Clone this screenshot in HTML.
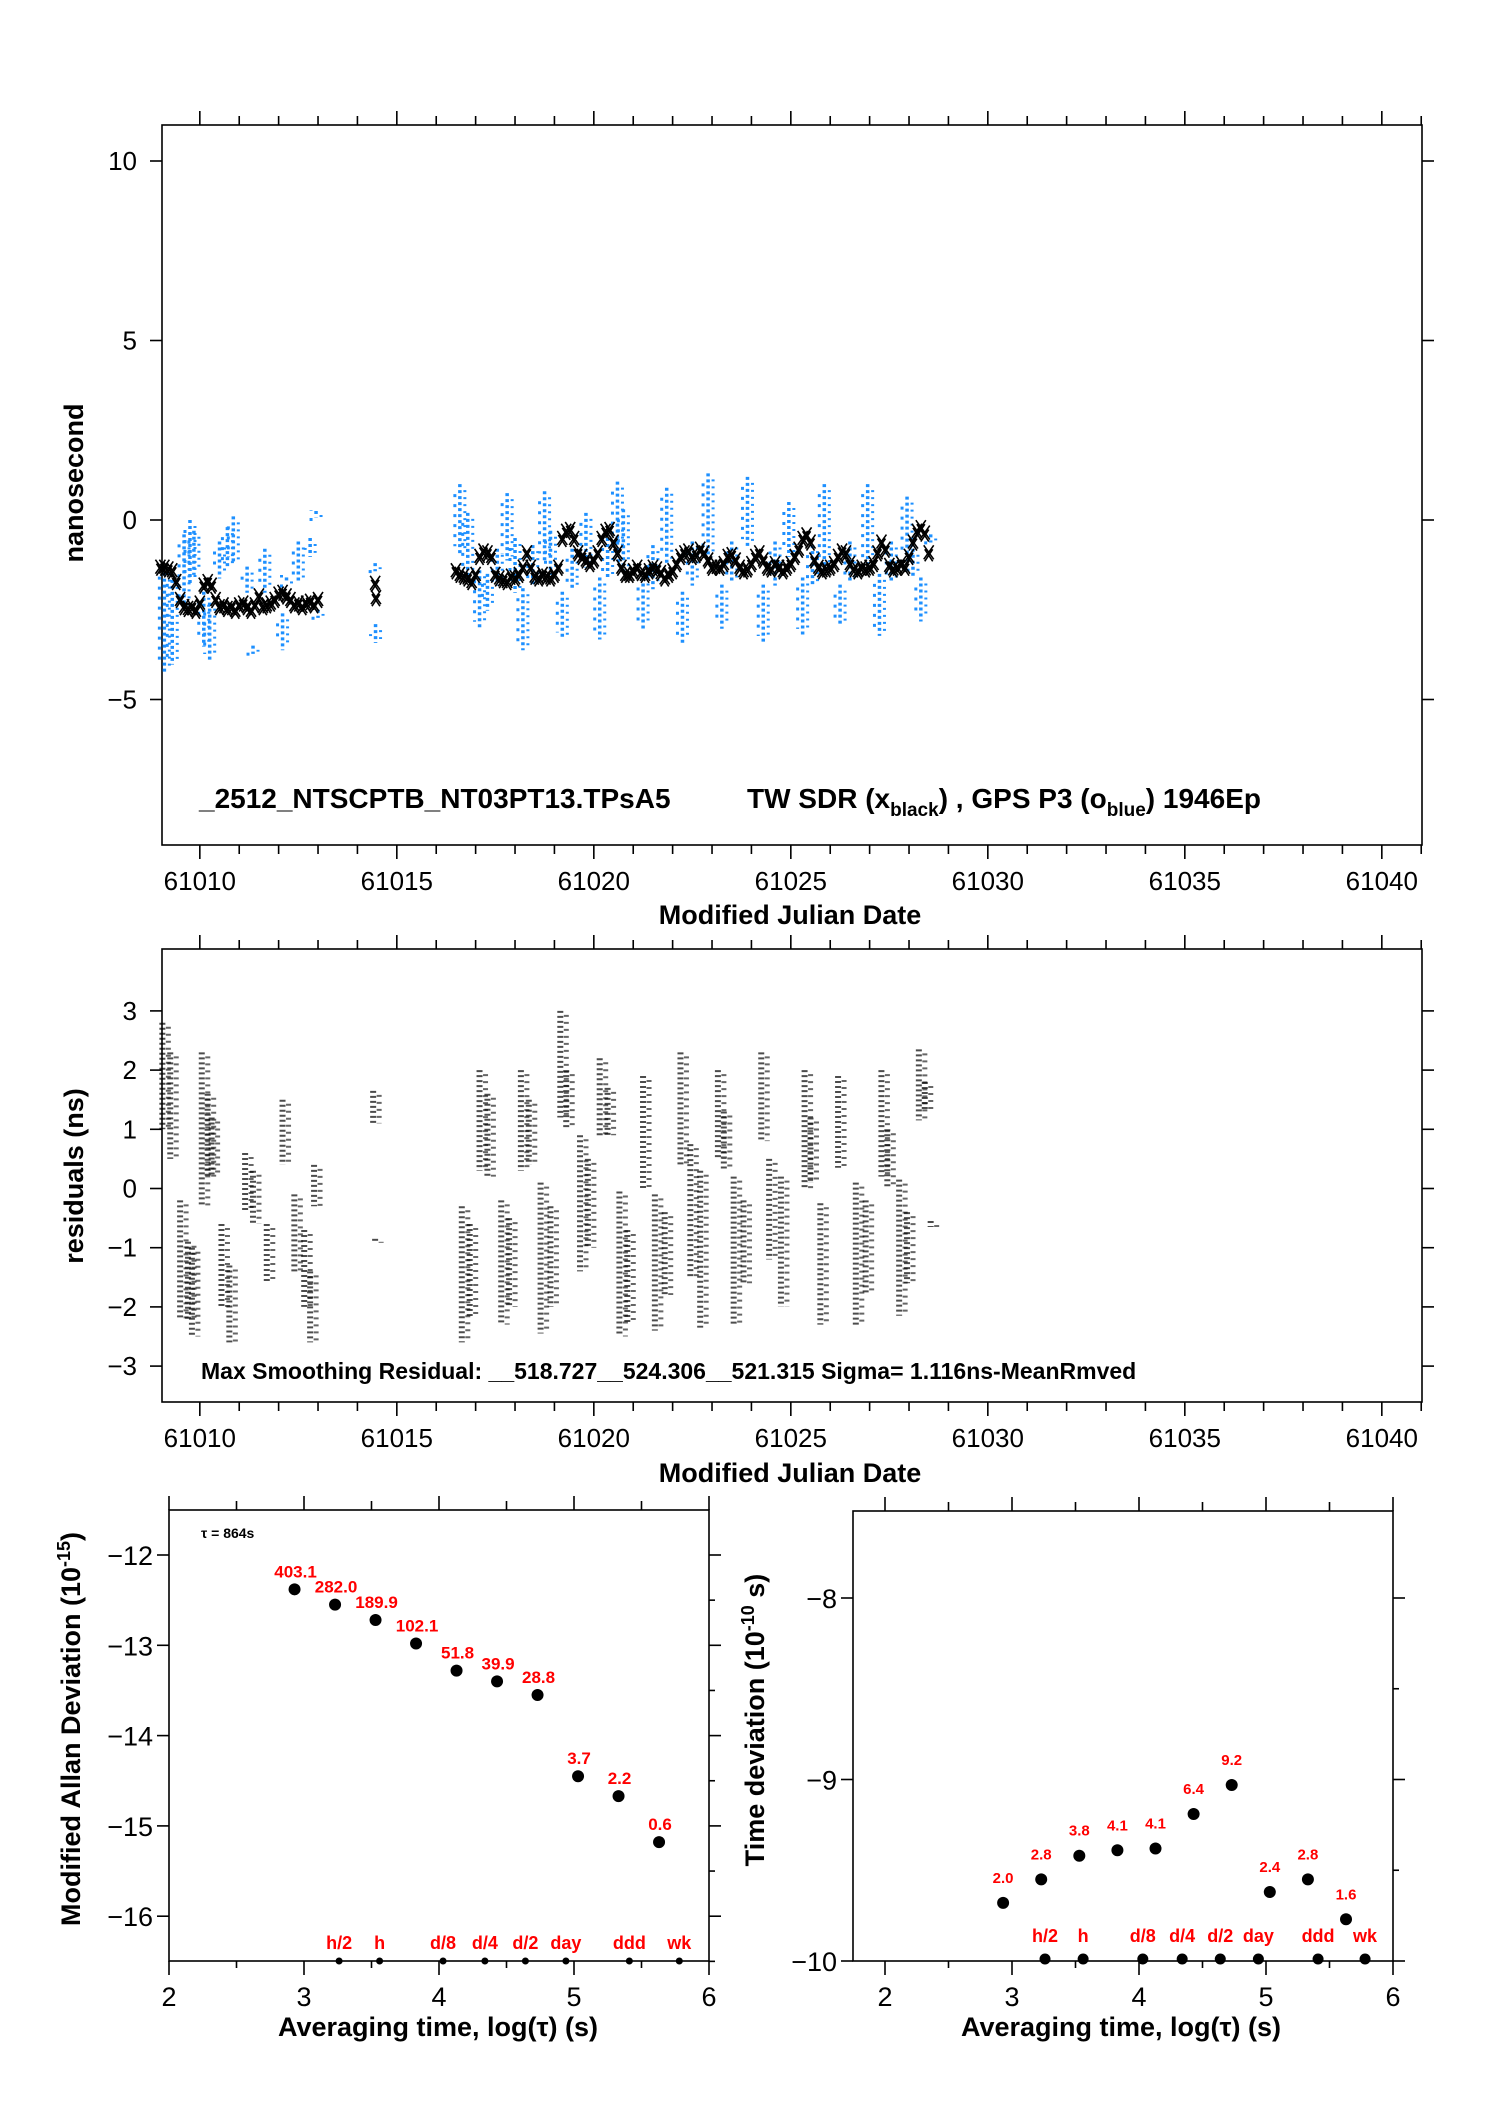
<!DOCTYPE html>
<html><head><meta charset="utf-8"><style>
body{margin:0;background:#fff;}
svg{display:block;font-family:"Liberation Sans",sans-serif;}
</style></head><body>
<svg id="c" width="1488" height="2105" viewBox="0 0 1488 2105" xmlns="http://www.w3.org/2000/svg">
<rect x="0" y="0" width="1488" height="2105" fill="#fff"/>
<text x="83" y="483" transform="rotate(-90 83 483)" text-anchor="middle" font-size="27" font-weight="bold">nanosecond</text>
<text x="199" y="808" font-size="28" font-weight="bold">_2512_NTSCPTB_NT03PT13.TPsA5</text>
<text x="747" y="808" font-size="28" font-weight="bold">TW SDR (x<tspan font-size="19" dy="8">black</tspan><tspan dy="-8">) ,  GPS P3 (o</tspan><tspan font-size="19" dy="8">blue</tspan><tspan dy="-8">)  1946Ep</tspan></text>
<text x="790" y="924" text-anchor="middle" font-size="27" font-weight="bold">Modified Julian Date</text>
<text x="83" y="1176" transform="rotate(-90 83 1176)" text-anchor="middle" font-size="27" font-weight="bold">residuals (ns)</text>
<text x="201" y="1379" font-size="23" font-weight="bold">Max Smoothing Residual: __518.727__524.306__521.315  Sigma= 1.116ns-MeanRmved</text>
<text x="790" y="1482" text-anchor="middle" font-size="27" font-weight="bold">Modified Julian Date</text>
<text x="80" y="1729" transform="rotate(-90 80 1729)" text-anchor="middle" font-size="27" font-weight="bold">Modified Allan Deviation (10<tspan font-size="18" dy="-10">-15</tspan><tspan dy="10">)</tspan></text>
<text x="201" y="1538" font-size="14" font-weight="bold">τ = 864s</text>
<text x="438" y="2036" text-anchor="middle" font-size="27" font-weight="bold">Averaging time, log(τ) (s)</text>
<text x="764" y="1720" transform="rotate(-90 764 1720)" text-anchor="middle" font-size="27" font-weight="bold">Time deviation (10<tspan font-size="18" dy="-10">-10</tspan><tspan dy="10"> s)</tspan></text>
<text x="1121" y="2036" text-anchor="middle" font-size="27" font-weight="bold">Averaging time, log(τ) (s)</text>
</svg>
<script>
// ---- top chart data ----
const blackT = [61009.0,61009.1,61009.2,61009.3,61009.4,61009.5,61009.6,61009.7,61009.8,61009.9,61010.0,61010.1,61010.2,61010.3,61010.4,61010.5,61010.6,61010.7,61010.8,61010.9,61011.0,61011.1,61011.2,61011.3,61011.4,61011.5,61011.6,61011.7,61011.8,61011.9,61012.0,61012.1,61012.2,61012.3,61012.4,61012.5,61012.6,61012.7,61012.8,61012.9,61013.0,61014.45,61014.47,
61016.5,61016.6,61016.7,61016.8,61016.9,61017.0,61017.1,61017.2,61017.3,61017.4,61017.5,61017.6,61017.7,61017.8,61017.9,61018.0,61018.1,61018.2,61018.3,61018.4,61018.5,61018.6,61018.7,61018.8,61018.9,61019.0,61019.1,61019.2,61019.3,61019.4,61019.5,61019.6,61019.7,61019.8,61019.9,61020.0,61020.1,61020.2,61020.3,61020.4,61020.5,61020.6,61020.7,61020.8,61020.9,61021.0,61021.1,61021.2,61021.3,61021.4,61021.5,61021.6,61021.7,61021.8,61021.9,61022.0,61022.1,61022.2,61022.3,61022.4,61022.5,61022.6,61022.7,61022.8,61022.9,61023.0,61023.1,61023.2,61023.3,61023.4,61023.5,61023.6,61023.7,61023.8,61023.9,61024.0,61024.1,61024.2,61024.3,61024.4,61024.5,61024.6,61024.7,61024.8,61024.9,61025.0,61025.1,61025.2,61025.3,61025.4,61025.5,61025.6,61025.7,61025.8,61025.9,61026.0,61026.1,61026.2,61026.3,61026.4,61026.5,61026.6,61026.7,61026.8,61026.9,61027.0,61027.1,61027.2,61027.3,61027.4,61027.5,61027.6,61027.7,61027.8,61027.9,61028.0,61028.1,61028.2,61028.3,61028.4,61028.5];
const blackV = [-1.3,-1.3,-1.35,-1.4,-1.7,-2.2,-2.4,-2.45,-2.4,-2.5,-2.3,-1.8,-1.7,-1.8,-2.2,-2.4,-2.35,-2.45,-2.4,-2.5,-2.35,-2.3,-2.4,-2.5,-2.35,-2.1,-2.4,-2.35,-2.3,-2.2,-2.05,-2.0,-2.1,-2.2,-2.35,-2.3,-2.4,-2.3,-2.25,-2.35,-2.2,-1.75,-2.15,
-1.4,-1.5,-1.55,-1.6,-1.7,-1.5,-1.0,-0.85,-0.9,-1.0,-1.5,-1.6,-1.65,-1.7,-1.55,-1.6,-1.5,-1.3,-0.9,-1.3,-1.55,-1.6,-1.5,-1.55,-1.6,-1.5,-1.3,-0.5,-0.3,-0.25,-0.5,-0.9,-1.0,-1.1,-1.2,-1.1,-0.9,-0.5,-0.3,-0.25,-0.6,-0.9,-1.3,-1.5,-1.5,-1.4,-1.3,-1.45,-1.5,-1.4,-1.3,-1.35,-1.45,-1.6,-1.5,-1.4,-1.2,-1.0,-0.9,-0.85,-1.0,-0.95,-0.8,-0.9,-1.1,-1.3,-1.25,-1.3,-1.2,-1.0,-0.95,-1.1,-1.3,-1.4,-1.35,-1.2,-1.0,-0.9,-1.1,-1.3,-1.35,-1.2,-1.3,-1.4,-1.3,-1.2,-1.0,-0.8,-0.5,-0.4,-0.6,-1.1,-1.3,-1.4,-1.35,-1.3,-1.2,-1.0,-0.85,-0.9,-1.2,-1.35,-1.4,-1.3,-1.35,-1.3,-1.2,-0.9,-0.6,-0.8,-1.25,-1.35,-1.3,-1.2,-1.3,-1.0,-0.6,-0.3,-0.2,-0.35,-0.9];
const blueT = [61009.1,61009.3,61009.6,61009.75,61009.85,61010.1,61010.25,61010.5,61010.7,61010.85,61011.2,61011.35,61011.65,61012.1,61012.2,61012.5,61012.8,61012.95,61013.0,61014.45,61014.46,
61016.6,61016.8,61017.1,61017.3,61017.55,61017.8,61018.0,61018.2,61018.45,61018.75,61018.9,61019.2,61019.45,61019.8,61020.15,61020.35,61020.6,61020.75,61021.25,61021.5,61021.85,61022.25,61022.5,61022.9,61023.25,61023.5,61023.9,61024.3,61024.6,61024.95,61025.3,61025.55,61025.85,61026.25,61026.5,61026.95,61027.25,61027.55,61027.95,61028.1,61028.3,61028.55];
const blueHi = [-1.3,-1.5,-0.4,0.0,-0.3,-2.0,-2.3,-0.6,-0.2,0.1,-1.3,-3.5,-0.8,-2.6,-1.6,-0.6,-0.5,0.25,-2.5,-1.2,-2.9,
1.0,0.2,-1.4,-1.5,-0.8,0.75,-0.5,-1.9,-0.7,0.8,-0.3,-2.0,-0.8,0.2,-1.6,-0.5,1.07,0.3,-1.6,-0.7,0.9,-2.0,-0.6,1.3,-1.8,-0.6,1.2,-1.8,-0.6,0.5,-1.6,-0.7,1.0,-1.8,-0.6,1.0,-1.5,-0.6,0.65,-0.8,-1.6,-0.4];
const blueLo = [-4.2,-4.0,-2.5,-1.8,-1.5,-3.5,-3.9,-1.6,-1.3,-1.2,-2.0,-3.7,-2.0,-3.6,-1.7,-1.7,-1.0,0.1,-2.7,-1.4,-3.4,
-0.9,-1.5,-3.0,-2.5,-1.8,-1.1,-2.0,-3.6,-1.8,-1.1,-1.5,-3.3,-1.9,-1.3,-3.3,-1.6,-0.9,-1.5,-3.0,-1.9,-1.2,-3.4,-1.8,-1.1,-3.0,-1.7,-0.7,-3.4,-1.8,-1.0,-3.2,-1.8,-1.4,-2.9,-1.7,-1.2,-3.2,-1.7,-1.0,-1.6,-2.8,-0.6];
// ---- residual data ----
const resT = [61009.1,61009.3,61009.55,61009.75,61009.85,61010.1,61010.25,61010.35,61010.6,61010.8,61011.2,61011.4,61011.75,61012.15,61012.45,61012.7,61012.85,61012.95,61014.45,61014.5,
61016.7,61016.9,61017.15,61017.35,61017.7,61017.9,61018.2,61018.4,61018.7,61018.95,61019.2,61019.35,61019.7,61019.9,61020.2,61020.4,61020.7,61020.9,61021.3,61021.6,61021.85,61022.25,61022.5,61022.75,61023.2,61023.35,61023.6,61023.85,61024.3,61024.5,61024.8,61025.4,61025.55,61025.8,61026.25,61026.7,61026.95,61027.35,61027.5,61027.8,61028.0,61028.3,61028.45,61028.6];
const resHi = [2.8,2.3,-0.2,-0.9,-1.0,2.3,1.6,1.2,-0.6,-1.3,0.6,0.3,-0.6,1.5,-0.1,-0.7,-1.4,0.4,1.65,-0.85,
-0.3,-0.6,2.0,1.6,-0.2,-0.5,2.0,1.5,0.1,-0.3,3.0,2.0,0.9,0.5,2.2,1.7,-0.05,-0.7,1.9,-0.1,-0.4,2.3,0.75,0.3,2.0,1.3,0.2,-0.2,2.3,0.5,0.2,2.0,1.2,-0.25,1.9,0.1,-0.2,2.0,1.0,0.15,-0.4,2.35,1.8,-0.55];
const resLo = [1.0,0.5,-2.2,-2.2,-2.5,-0.3,0.2,0.2,-2.0,-2.6,-0.4,-0.6,-1.6,0.4,-1.4,-2.0,-2.6,-0.3,1.1,-0.9,
-2.6,-2.2,0.3,0.2,-2.3,-2.0,0.3,0.4,-2.45,-2.0,1.2,1.0,-1.4,-1.0,0.9,0.9,-2.5,-2.3,0.0,-2.4,-1.8,0.4,-1.5,-2.35,0.5,0.3,-2.3,-1.6,0.8,-1.2,-2.0,0.0,0.1,-2.3,0.35,-2.3,-1.8,0.2,0.0,-2.15,-1.6,1.15,1.3,-0.65];
// ---- stability data ----
const adevX = [2.93,3.23,3.53,3.83,4.13,4.43,4.73,5.03,5.33,5.63];
const adevY = [-12.38,-12.55,-12.72,-12.98,-13.28,-13.40,-13.55,-14.45,-14.67,-15.18];
const adevLbl = ["403.1","282.0","189.9","102.1","51.8","39.9","28.8","3.7","2.2","0.6"];
const tdevX = [2.93,3.23,3.53,3.83,4.13,4.43,4.73,5.03,5.33,5.63];
const tdevY = [-9.68,-9.55,-9.42,-9.39,-9.38,-9.19,-9.03,-9.62,-9.55,-9.77];
const tdevLbl = ["2.0","2.8","3.8","4.1","4.1","6.4","9.2","2.4","2.8","1.6"];
const markX = [3.26,3.56,4.03,4.34,4.64,4.94,5.41,5.78];
const markLbl = ["h/2","h","d/8","d/4","d/2","day","ddd","wk"];
const mjdTicks = [61010,61015,61020,61025,61030,61035,61040];
const topYTicks = [10,5,0,-5];
const resYTicks = [3,2,1,0,-1,-2,-3];
const adevYTicks = [-12,-13,-14,-15,-16];
const tdevYTicks = [-8,-9,-10];
const logTicks = [2,3,4,5,6];

const svg = document.getElementById('c');
const NS = 'http://www.w3.org/2000/svg';
function mk(tag, attrs, parent){const e=document.createElementNS(NS,tag);for(const k in attrs)e.setAttribute(k,attrs[k]);(parent||svg).appendChild(e);return e;}
const XM = m => 162 + (m-61009.04)*39.4;
const Y1 = v => 520 - v*35.9;
const Y2 = v => 1188.5 - v*59.2;
const XA = l => 169 + (l-2)*135;
const YA = v => 1555 - (v+12)*90.3;
const XT = l => 885 + (l-2)*127;
const YT = v => 1961 - (v+10)*181.5;
const fmt = v => (v<0?'\u2212':'')+Math.abs(v);

function frame(x0,y0,x1,y1,name){
  const r = mk('rect',{x:x0,y:y0,width:x1-x0,height:y1-y0,fill:'none',stroke:'#000','stroke-width':1.6});
  
  
}
function line(x1,y1,x2,y2,w,name){
  const l = mk('line',{x1:x1,y1:y1,x2:x2,y2:y2,stroke:'#000','stroke-width':w||1.6});
  
  
  return l;
}
function txt(x,y,s,anchor,size,fill,bold,name){
  const t = mk('text',{x:x,y:y,'text-anchor':anchor,'font-size':size,fill:fill||'#000','font-weight':bold?'bold':'normal'});
  t.textContent = s;
  
  
  return t;
}

function mjdPanel(y0,y1,Y,yt,prefix){
  frame(162,y0,1422,y1,prefix+'-plot-frame');
  for(let d=61009; d<=61041; d++){
    const x = XM(d); if(x<162||x>1423) continue;
    const major = d%5===0;
    line(x,y0,x,y0-(major?14:9),1.6,prefix+'-top-tick');
    line(x,y1,x,y1+(major?14:9),1.6,prefix+'-bottom-tick');
  }
  for(const m of mjdTicks) txt(XM(m),y1+45,String(m),'middle',26,'#000',false,prefix+'-x-tick-label');
  for(const v of yt){
    line(150,Y(v),162,Y(v),1.6,prefix+'-left-y-tick');
    line(1422,Y(v),1434,Y(v),1.6,prefix+'-right-y-tick');
    txt(137,Y(v)+9,fmt(v),'end',26,'#000',false,prefix+'-y-tick-label');
  }
}
mjdPanel(125,845,Y1,topYTicks,'top');
mjdPanel(949,1402,Y2,resYTicks,'residual');

for(let i=0;i<blueT.length;i++){
  const x = XM(blueT[i]);
  const s = mk('line',{x1:x,y1:Y1(blueHi[i]),x2:x,y2:Y1(blueLo[i])+1,stroke:'#1e90ff','stroke-width':3.5,'stroke-dasharray':'3,3'});
  
  
  const s2 = mk('line',{x1:x+5,y1:Y1(blueHi[i])+6,x2:x+5,y2:Y1(blueLo[i])-3,stroke:'#1e90ff','stroke-width':3,'stroke-dasharray':'2,5'});
  
  
  const s3 = mk('line',{x1:x-5,y1:Y1(blueHi[i])+10,x2:x-5,y2:Y1(blueLo[i])-6,stroke:'#1e90ff','stroke-width':3,'stroke-dasharray':'3,7'});
  
  
}
for(let i=0;i<blackT.length;i++){
  const x = XM(blackT[i]), y = Y1(blackV[i]);
  const p = mk('path',{d:`M${x-5},${y-7}L${x+5},${y+7}M${x+5},${y-7}L${x-5},${y+7}M${x-4},${y-3}L${x+4},${y+9}M${x+4},${y-3}L${x-4},${y+9}`,stroke:'#000','stroke-width':1.6,fill:'none'});
  
  
}
for(let i=0;i<resT.length;i++){
  const x = XM(resT[i]);
  const a = mk('line',{x1:x-2,y1:Y2(resHi[i]),x2:x-2,y2:Y2(resLo[i]),stroke:'#000','stroke-width':6,'stroke-dasharray':'2,3','stroke-opacity':0.7});
  
  
  const b = mk('line',{x1:x+4,y1:Y2(resHi[i])+4,x2:x+4,y2:Y2(resLo[i]),stroke:'#000','stroke-width':5,'stroke-dasharray':'2,5','stroke-opacity':0.6});
  
  
}

function logPanel(X,x0,x1,y0,y1,Y,yt,ymin,ymax,prefix){
  frame(x0,y0,x1,y1,prefix+'-plot-frame');
  for(let l=2; l<=6.001; l+=0.5){
    const x = X(l); const major = Math.abs(l-Math.round(l))<0.01;
    line(x,y0,x,y0-(major?14:9),1.6,prefix+'-top-tick');
    line(x,y1,x,y1+(major?14:7),1.6,prefix+'-bottom-tick');
  }
  for(const l of logTicks) txt(X(l),y1+45,String(l),'middle',27,'#000',false,prefix+'-x-tick-label');
  for(let v=ymax; v>=ymin-0.001; v-=0.5){
    const major = Math.abs(v-Math.round(v))<0.01;
    line(x1,Y(v),x1+(major?12:6),Y(v),1.6,prefix+'-right-y-tick');
    if(major) line(x0-12,Y(v),x0,Y(v),1.6,prefix+'-left-y-tick');
  }
  for(const v of yt) txt(x0-16,Y(v)+10,fmt(v),'end',27,'#000',false,prefix+'-y-tick-label');
}
logPanel(XA,169,709,1510,1961,YA,adevYTicks,-16.5,-12,'adev');
logPanel(XT,853,1393,1511,1961,YT,tdevYTicks,-10,-8,'tdev');

for(let i=0;i<adevX.length;i++){
  const c = mk('circle',{cx:XA(adevX[i]),cy:YA(adevY[i]),r:6,fill:'#000'});
  
  
  txt(XA(adevX[i])+1,YA(adevY[i])-12,adevLbl[i],'middle',17,'#f00',true,'adev-value-label');
}
for(let i=0;i<tdevX.length;i++){
  const c = mk('circle',{cx:XT(tdevX[i]),cy:YT(tdevY[i]),r:6,fill:'#000'});
  
  
  txt(XT(tdevX[i]),YT(tdevY[i])-20,tdevLbl[i],'middle',15,'#f00',true,'tdev-value-label');
}
for(let i=0;i<markX.length;i++){
  const a = mk('circle',{cx:XA(markX[i]),cy:1961,r:3.5,fill:'#000'});
  
  
  txt(XA(markX[i]),1949,markLbl[i],'middle',18,'#f00',true,'adev-interval-label');
  const b = mk('circle',{cx:XT(markX[i]),cy:1959,r:5.5,fill:'#000'});
  
  
  txt(XT(markX[i]),1942,markLbl[i],'middle',18,'#f00',true,'tdev-interval-label');
}
</script>
</body></html>
